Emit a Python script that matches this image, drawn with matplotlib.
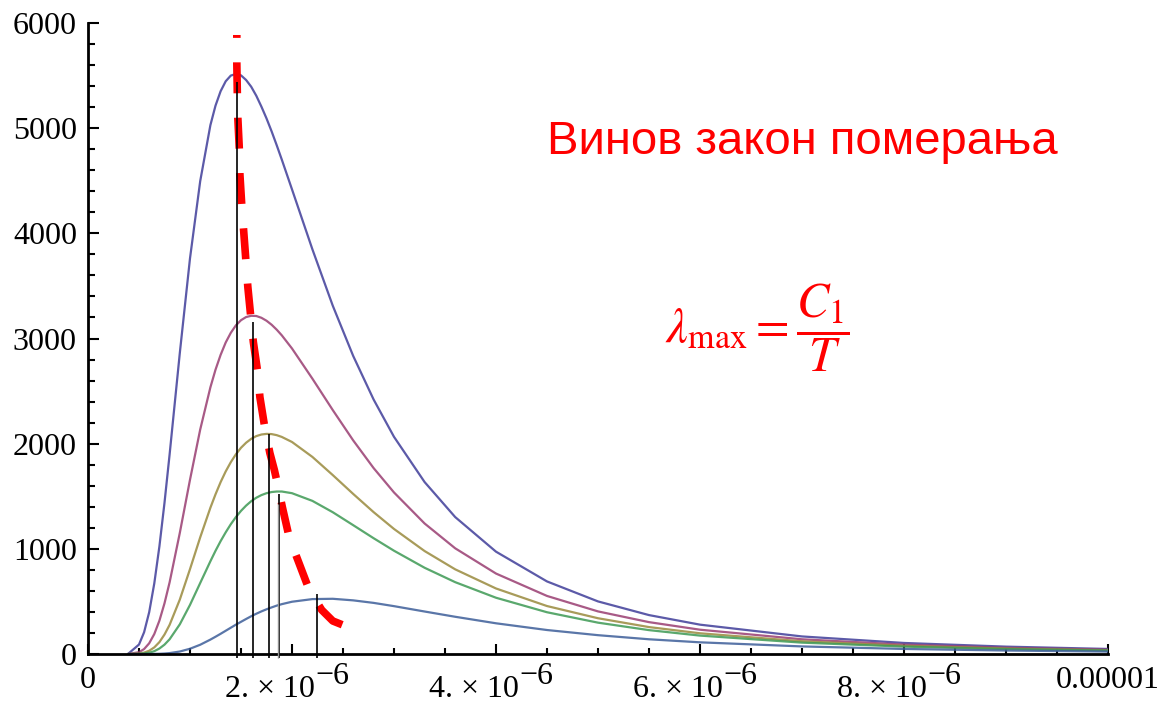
import numpy as np
import matplotlib
matplotlib.use('Agg')
import matplotlib.pyplot as plt
from matplotlib.ticker import MultipleLocator
import matplotlib.transforms as mtransforms

plt.rcParams['font.family'] = ['Liberation Serif', 'DejaVu Serif']
plt.rcParams['mathtext.fontset'] = 'stix'

# wavelength samples (micrometres) and spectral curves for five temperatures
wl_um = [0.4, 0.5, 0.55, 0.6, 0.65, 0.7, 0.75, 0.8, 0.9, 1.0, 1.1, 1.2,
         1.25, 1.3, 1.35, 1.4, 1.45, 1.5, 1.55, 1.6, 1.65, 1.7, 1.75, 1.8, 1.85, 1.9,
         2.0, 2.2, 2.4, 2.6, 2.8, 3.0, 3.3, 3.6, 4.0, 4.5, 5.0, 5.5, 6.0, 7.0, 8.0, 9.0, 10.0]
curve_1 = [7, 90, 207, 398, 672, 1023, 1438, 1897, 2861, 3762, 4496, 5029,
           5214, 5351, 5446, 5500, 5515, 5502, 5458, 5394, 5308, 5205, 5093, 4970, 4838, 4701,
           4418, 3848, 3311, 2834, 2420, 2065, 1635, 1302, 973, 690, 500, 370, 279, 167, 105, 70, 48]
curve_2 = [1, 17, 47, 102, 190, 317, 482, 681, 1151, 1657, 2134, 2536,
           2703, 2844, 2962, 3054, 3125, 3174, 3204, 3216, 3214, 3197, 3169, 3131, 3084, 3030,
           2905, 2618, 2319, 2031, 1768, 1536, 1241, 1005, 765, 552, 405, 303, 231, 140, 89, 59, 41]
curve_3 = [0, 4, 13, 31, 63, 113, 185, 277, 517, 807, 1109, 1391,
           1518, 1634, 1736, 1824, 1899, 1961, 2009, 2046, 2072, 2087, 2093, 2091, 2081, 2064,
           2016, 1874, 1701, 1522, 1349, 1189, 979, 805, 623, 456, 340, 256, 197, 121, 78, 52, 36]
curve_4 = [0, 1, 5, 12, 27, 52, 89, 140, 282, 467, 675, 882,
           981, 1073, 1157, 1234, 1302, 1361, 1411, 1453, 1486, 1511, 1529, 1540, 1545, 1545,
           1529, 1456, 1348, 1225, 1101, 982, 820, 683, 535, 397, 298, 227, 175, 108, 70, 47, 33]
curve_5 = [0, 0, 0, 0.3, 0.9, 2, 4.5, 8.6, 23.5, 50, 88, 137,
           164, 192, 221, 250, 279, 306, 333, 359, 383, 405, 425, 443, 460, 474,
           497, 522, 525, 510, 486, 455, 404, 354, 292, 228, 179, 140, 111, 72, 48, 33, 23]
curves = [curve_1, curve_2, curve_3, curve_4, curve_5]
colors = ['#3f3d99', '#993d71', '#998a3d', '#3d9954', '#3d5e99']

# peak markers (position in micrometres, height)
peak_um = [1.459, 1.616, 1.773, 1.871, 2.243]
peak_top = [5442, 3157, 2092, 1521, 570]

# displacement-law locus
wien_um = [1.459, 1.459, 1.464, 1.469, 1.484, 1.489, 1.508, 1.538, 1.567, 1.596, 1.621,
           1.665, 1.685, 1.734, 1.783, 1.827, 1.856, 1.905, 1.974, 2.057, 2.169, 2.292,
           2.400, 2.547]
wien_val = [5886, 5620, 5325, 5097, 4792, 4564, 4260, 3870, 3490, 3204, 2967,
            2672, 2444, 2149, 1911, 1750, 1626, 1398, 1103, 894, 609, 418,
            314, 257]

x_ticks = [0, 2e-6, 4e-6, 6e-6, 8e-6, 1e-5]
x_tick_text = ['0', '2.', '4.', '6.', '8.', '0.00001']

fig = plt.figure(figsize=(11.63, 7.05), dpi=100)
ax = fig.add_axes([88 / 1163, 51 / 705, 1020 / 1163, 631 / 705])

wl = np.array(wl_um) * 1e-6
for vals, c in zip(curves, colors):
    ax.plot(wl, vals, color=c, lw=1.6, alpha=0.85, zorder=2,
            solid_joinstyle='round')

ax.plot(np.array(wien_um) * 1e-6, wien_val, color='#ff0000', lw=5.5,
        linestyle=(3.67, (4.05, 3.2)), dash_capstyle='butt', zorder=3)

ax.vlines(np.array(peak_um) * 1e-6, -40, peak_top, color='black', lw=1.2,
          zorder=4, clip_on=False)
ax.vlines([peak_um[3] * 1e-6 - 0.012e-6], -40, [peak_top[3] - 90], color='#909090',
          lw=1.0, zorder=4, clip_on=False)

ax.set_xlim(0, 1e-5)
ax.set_ylim(0, 6000)
for s in ['top', 'right']:
    ax.spines[s].set_visible(False)
for s in ['left', 'bottom']:
    ax.spines[s].set_linewidth(2)

ax.set_xticks(x_ticks)
ax.set_xticklabels([t if t in ('0', '0.00001') else '' for t in x_tick_text])
ax.xaxis.set_minor_locator(MultipleLocator(5e-7))
ax.yaxis.set_major_locator(MultipleLocator(1000))
ax.yaxis.set_minor_locator(MultipleLocator(200))
ax.tick_params(axis='both', which='both', direction='in', width=1.5, labelsize=23)
ax.tick_params(axis='x', which='major', length=7, pad=8.5)
ax.tick_params(axis='x', which='minor', length=4.5)
ax.tick_params(axis='y', which='major', length=8, pad=8)
ax.tick_params(axis='y', which='minor', length=5)

# scientific tick labels with full-size exponent
trans = mtransforms.blended_transform_factory(ax.transData, ax.transAxes)
for v, t in zip(x_ticks, x_tick_text):
    if t in ('0', '0.00001'):
        continue
    ax.annotate(t + ' \u00d7 10', xy=(v, 0), xycoords=trans, xytext=(16.5, -31),
                textcoords='offset points', ha='right', va='baseline', fontsize=23,
                annotation_clip=False)
    ax.annotate('\u22126', xy=(v, 0), xycoords=trans, xytext=(16.5, -21.7),
                textcoords='offset points', ha='left', va='baseline', fontsize=23,
                annotation_clip=False)

fig.text(547 / 1163, 1 - 154 / 705, 'Винов закон померања', color='#ff0000',
         fontsize=34, family=['Liberation Sans', 'DejaVu Sans'], ha='left', va='baseline')
fig.text(757 / 1163, 1 - 328 / 705, r'$\lambda_{\mathrm{max}} = \dfrac{C_1}{T}$',
         color='#ff0000', fontsize=35, ha='center', va='center')

fig.savefig('out.png', dpi=100)
